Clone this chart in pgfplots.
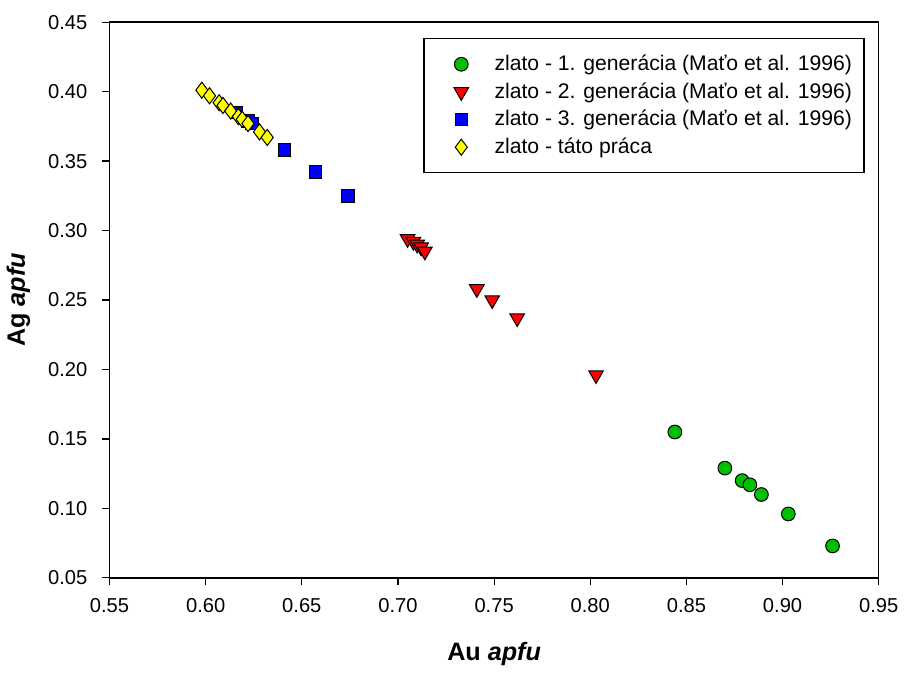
\documentclass[border=0pt]{standalone}
\usepackage{pgfplots}
\pgfplotsset{compat=1.18}
\usepackage{fontspec}
\setmainfont{Liberation Sans}
\definecolor{sgreen}{HTML}{00BF00}
\definecolor{sred}{HTML}{FF0000}
\definecolor{sblue}{HTML}{0000FF}
\definecolor{syellow}{HTML}{FFFF00}

\begin{document}
\begin{tikzpicture}
\begin{axis}[
  scale only axis,
  width=382pt, height=276pt,
  xmin=0.55, xmax=0.95, ymin=0.05, ymax=0.45,
  xtick={0.55,0.60,...,0.95}, ytick={0.05,0.10,...,0.45},
  axis line style={line width=0.7pt},
  tick align=outside, tick pos=left,
  major tick length=3.5pt,
  tick style={black, line width=0.6pt},
  ticklabel style={font=\fontsize{10}{11}\selectfont},
  /pgf/number format/.cd, fixed, fixed zerofill, precision=2, assume math mode=true,
  /pgfplots/.cd,
  xticklabel style={yshift=-3pt},
  yticklabel style={xshift=-4pt},
  xlabel={\textbf{Au \textit{apfu}}},
  ylabel={\textbf{Ag \textit{apfu}}},
  label style={font=\fontsize{12.5}{14}\selectfont},
  xlabel style={yshift=-8pt},
  ylabel style={yshift=2pt},
  legend style={at={(1,1)}, xshift=-7pt, yshift=-8pt, anchor=north east, draw=black, line width=0.6pt,
    font=\fontsize{10.5}{13}\selectfont, inner xsep=4pt, inner ysep=6pt,
    row sep=0.5pt},
  legend cell align=left,
  legend image code/.code={\path (-0.5cm,0) (0.5cm,0); \draw[#1] plot coordinates {(0cm,0cm)};},
]
\addplot[only marks, mark=*, mark size=3.4pt, mark options={fill=sgreen, draw=black, line width=0.5pt}]
  coordinates {(0.844,0.155) (0.870,0.129) (0.879,0.120) (0.883,0.117) (0.889,0.110) (0.903,0.096) (0.926,0.073)};
\addlegendentry{zlato - 1. generácia (Maťo et al. 1996)}
\addplot[only marks, mark=triangle*, mark size=4.2pt, mark options={rotate=180, fill=sred, draw=black, line width=0.5pt}]
  coordinates {(0.705,0.294) (0.708,0.292) (0.710,0.290) (0.712,0.288) (0.714,0.285)
  (0.741,0.258) (0.749,0.250) (0.762,0.237) (0.803,0.196)};
\addlegendentry{zlato - 2. generácia (Maťo et al. 1996)}
\addplot[only marks, mark=square*, mark size=3.1pt, mark options={fill=sblue, draw=black, line width=0.5pt}]
  coordinates {(0.616,0.385) (0.622,0.379) (0.624,0.377) (0.641,0.358) (0.657,0.342) (0.674,0.325)};
\addlegendentry{zlato - 3. generácia (Maťo et al. 1996)}
\addplot[only marks, mark=diamond*, mark size=4pt, mark options={fill=syellow, draw=black, line width=0.5pt}]
  coordinates {(0.598,0.401) (0.602,0.397) (0.607,0.392) (0.609,0.390) (0.613,0.386)
  (0.617,0.382) (0.619,0.380) (0.622,0.377) (0.628,0.371) (0.632,0.367)};
\addlegendentry{zlato - táto práca}
\end{axis}
\path (current axis.north) ++(0,11pt);
\end{tikzpicture}
\end{document}
